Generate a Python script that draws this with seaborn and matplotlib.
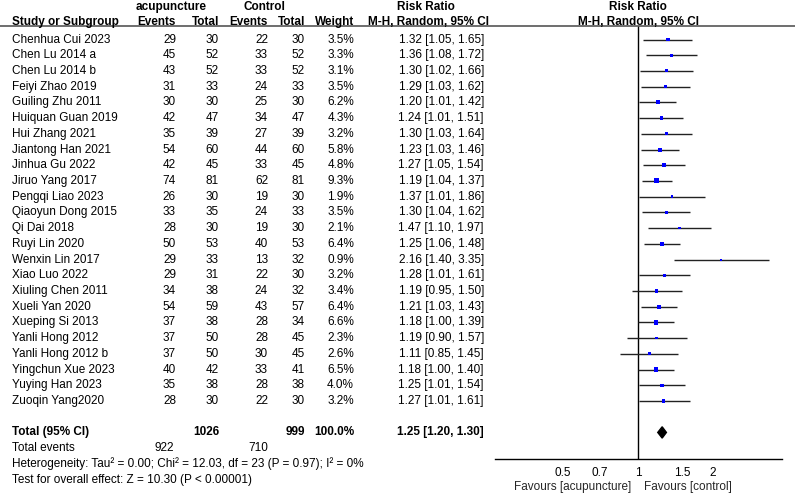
import pandas as pd
import seaborn as sns
import matplotlib.pyplot as plt
from matplotlib.lines import Line2D
from matplotlib.ticker import NullLocator
from matplotlib.transforms import blended_transform_factory

studies = ["Chenhua Cui 2023", "Chen Lu 2014 a", "Chen Lu 2014 b", "Feiyi Zhao 2019",
           "Guiling Zhu 2011", "Huiquan Guan 2019", "Hui Zhang 2021", "Jiantong Han 2021",
           "Jinhua Gu 2022", "Jiruo Yang 2017", "Pengqi Liao 2023", "Qiaoyun Dong 2015",
           "Qi Dai 2018", "Ruyi Lin 2020", "Wenxin Lin 2017", "Xiao Luo 2022",
           "Xiuling Chen 2011", "Xueli Yan 2020", "Xueping Si 2013", "Yanli Hong 2012",
           "Yanli Hong 2012 b", "Yingchun Xue 2023", "Yuying Han 2023", "Zuoqin Yang2020"]
acu_events = [29, 45, 43, 31, 30, 42, 35, 54, 42, 74, 26, 33, 28, 50, 29, 29, 34, 54, 37, 37, 37, 40, 35, 28]
acu_total = [30, 52, 52, 33, 30, 47, 39, 60, 45, 81, 30, 35, 30, 53, 33, 31, 38, 59, 38, 50, 50, 42, 38, 30]
ctl_events = [22, 33, 33, 24, 25, 34, 27, 44, 33, 62, 19, 24, 19, 40, 13, 22, 24, 43, 28, 28, 30, 33, 28, 22]
ctl_total = [30, 52, 52, 33, 30, 47, 39, 60, 45, 81, 30, 33, 30, 53, 32, 30, 32, 57, 34, 45, 45, 41, 38, 30]
weights = [3.5, 3.3, 3.1, 3.5, 6.2, 4.3, 3.2, 5.8, 4.8, 9.3, 1.9, 3.5, 2.1, 6.4, 0.9, 3.2,
           3.4, 6.4, 6.6, 2.3, 2.6, 6.5, 4.0, 3.2]
rr = [1.32, 1.36, 1.30, 1.29, 1.20, 1.24, 1.30, 1.23, 1.27, 1.19, 1.37, 1.30, 1.47, 1.25,
      2.16, 1.28, 1.19, 1.21, 1.18, 1.19, 1.11, 1.18, 1.25, 1.27]
ci_low = [1.05, 1.08, 1.02, 1.03, 1.01, 1.01, 1.03, 1.03, 1.05, 1.04, 1.01, 1.04, 1.10, 1.06,
          1.40, 1.01, 0.95, 1.03, 1.00, 0.90, 0.85, 1.00, 1.01, 1.01]
ci_high = [1.65, 1.72, 1.66, 1.62, 1.42, 1.51, 1.64, 1.46, 1.54, 1.37, 1.86, 1.62, 1.97, 1.48,
           3.35, 1.61, 1.50, 1.43, 1.39, 1.57, 1.45, 1.40, 1.54, 1.61]

total_rr, total_lo, total_hi = 1.25, 1.20, 1.30
total_n = [1026, 999]
total_events = [922, 710]
heterogeneity = "Heterogeneity: Tau² = 0.00; Chi² = 12.03, df = 23 (P = 0.97); I² = 0%"
overall = "Test for overall effect: Z = 10.30 (P < 0.00001)"
tick_vals = [0.5, 0.7, 1, 1.5, 2]
tick_labels = ["0.5", "0.7", "1", "1.5", "2"]

df = pd.DataFrame({"study": studies, "rr": rr, "lo": ci_low, "hi": ci_high,
                   "weight": weights, "row": range(len(studies))})

sns.set_style("white")
plt.rcParams["font.family"] = ["Liberation Sans", "DejaVu Sans"]
fs = 8.45
W, H = 795, 494

fig = plt.figure(figsize=(W / 100, H / 100), dpi=100)
ax = fig.add_axes([495 / W, 1 - 459 / H, (782 - 495) / W, (459 - 26) / H])

# forest part
ax.hlines(df["row"], df["lo"], df["hi"], color="#222222", lw=1, zorder=2)
sns.scatterplot(data=df, x="rr", y="row", size="weight", sizes=(2, 13), size_norm=(0.9, 9.3),
                marker="s", color="#0000ff", linewidth=0, legend=False, ax=ax, zorder=3)
ax.fill([total_lo, total_rr, total_hi, total_rr], [25, 25 - 0.36, 25, 25 + 0.36],
        color="black", zorder=3)
ax.axvline(1, color="black", lw=1, zorder=1)

ax.set_xscale("log")
ax.set_xlim(0.267, 3.78)
ax.set_ylim(26.69, -0.86)
ax.set_xticks(tick_vals)
ax.set_xticklabels(tick_labels)
ax.xaxis.set_minor_locator(NullLocator())
ax.set_yticks([])
ax.set_xlabel("")
ax.set_ylabel("")
ax.tick_params(axis="x", direction="inout", length=8, width=1, labelsize=fs, pad=1.5,
               colors="black")
for s in ["top", "right", "left"]:
    ax.spines[s].set_visible(False)
ax.spines["bottom"].set_color("black")
ax.spines["bottom"].set_linewidth(1)
ax.patch.set_alpha(0)

# table part
tr = blended_transform_factory(fig.transFigure, ax.transData)


def put(xpx, row, s, ha="right", bold=False):
    fig.text(xpx / W, row, s, transform=tr, ha=ha, va="center", fontsize=fs,
             fontweight="bold" if bold else "normal", color="black")


put(171, -2.07, "acupuncture", ha="center", bold=True)
put(264, -2.07, "Control", ha="center", bold=True)
put(426, -2.07, "Risk Ratio", ha="center", bold=True)
put(638, -2.07, "Risk Ratio", ha="center", bold=True)
put(12, -1.11, "Study or Subgroup", ha="left", bold=True)
put(176, -1.11, "Events", bold=True)
put(219, -1.11, "Total", bold=True)
put(268, -1.11, "Events", bold=True)
put(305, -1.11, "Total", bold=True)
put(354, -1.11, "Weight", bold=True)
put(489, -1.11, "M-H, Random, 95% CI", bold=True)
put(638, -1.11, "M-H, Random, 95% CI", ha="center", bold=True)
fig.add_artist(Line2D([0, 1], [1 - 26.5 / H] * 2, color="#555555", lw=1.2))

for i in range(len(studies)):
    put(12, i, studies[i], ha="left")
    put(176, i, str(acu_events[i]))
    put(219, i, str(acu_total[i]))
    put(268, i, str(ctl_events[i]))
    put(305, i, str(ctl_total[i]))
    put(354, i, f"{weights[i]:.1f}%")
    put(484, i, f"{rr[i]:.2f} [{ci_low[i]:.2f}, {ci_high[i]:.2f}]")

put(12, 25, "Total (95% CI)", ha="left", bold=True)
put(219, 25, str(total_n[0]), bold=True)
put(305, 25, str(total_n[1]), bold=True)
put(354, 25, "100.0%", bold=True)
put(484, 25, f"{total_rr:.2f} [{total_lo:.2f}, {total_hi:.2f}]", bold=True)
put(12, 26, "Total events", ha="left")
put(174, 26, str(total_events[0]))
put(268, 26, str(total_events[1]))
put(12, 27, heterogeneity, ha="left")
put(12, 28, overall, ha="left")

ax.annotate("Favours [acupuncture]", xy=(1, 1 - 486.5 / H), xycoords=("data", "figure fraction"),
            xytext=(-5, 0), textcoords="offset points", ha="right", va="center", fontsize=fs)
ax.annotate("Favours [control]", xy=(1, 1 - 486.5 / H), xycoords=("data", "figure fraction"),
            xytext=(4, 0), textcoords="offset points", ha="left", va="center", fontsize=fs)

fig.savefig("out.png", dpi=100, facecolor="white")
